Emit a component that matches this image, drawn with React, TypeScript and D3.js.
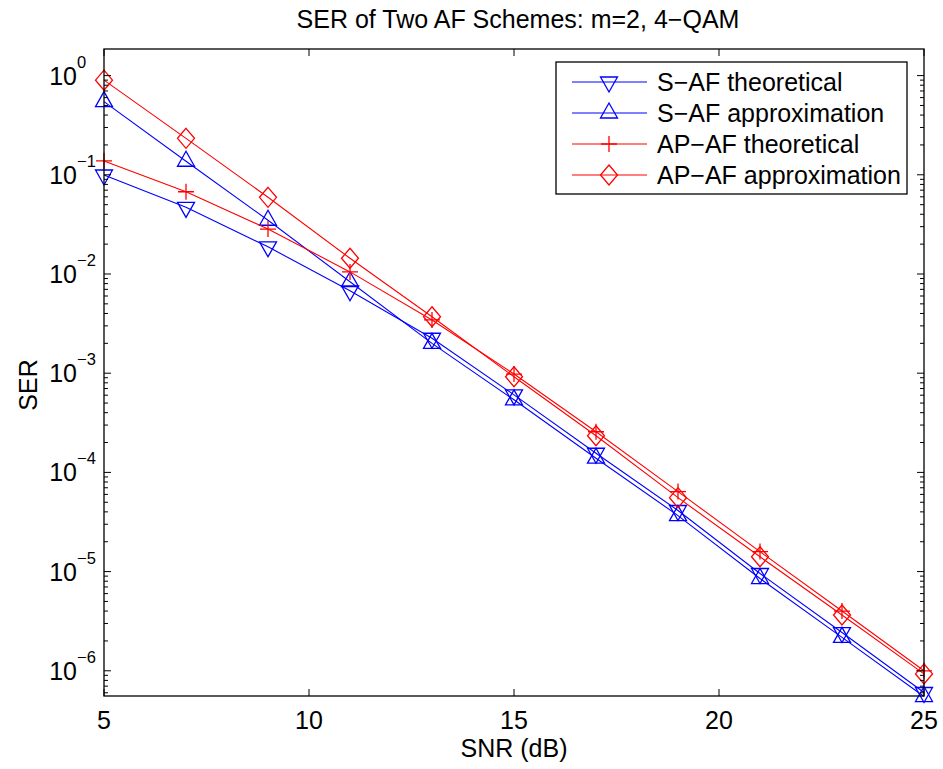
import React from "react";
import * as d3 from "d3";

// SNR points (dB)
const snr = [5, 7, 9, 11, 13, 15, 17, 19, 21, 23, 25];

// SER values
const sAfTheoretical = [0.0995, 0.047, 0.0188, 0.00677, 0.00225, 6.05e-4, 1.56e-4, 4.13e-5, 9.57e-6, 2.43e-6, 6.04e-7];
const sAfApprox = [0.546, 0.137, 0.0348, 0.00836, 0.002, 5.39e-4, 1.39e-4, 3.67e-5, 8.51e-6, 2.17e-6, 5.5e-7];
const apAfTheoretical = [0.138, 0.0675, 0.0284, 0.0105, 0.00344, 9.8e-4, 2.57e-4, 6.4e-5, 1.59e-5, 4.0e-6, 1.0e-6];
const apAfApprox = [0.9, 0.233, 0.0593, 0.0144, 0.00371, 9.2e-4, 2.34e-4, 5.56e-5, 1.41e-5, 3.65e-6, 9.3e-7];

const xTicks = [5, 10, 15, 20, 25];
const yDecades = [0, -1, -2, -3, -4, -5, -6];

const series = [
  { name: "S\u2212AF theoretical", values: sAfTheoretical, color: "#0000ff", marker: "tdown" },
  { name: "S\u2212AF approximation", values: sAfApprox, color: "#0000ff", marker: "tup" },
  { name: "AP\u2212AF theoretical", values: apAfTheoretical, color: "#ff0000", marker: "plus" },
  { name: "AP\u2212AF approximation", values: apAfApprox, color: "#ff0000", marker: "diamond" },
];

const W = 943;
const H = 769;
const left = 104;
const right = 924;
const top = 49;
const bottom = 696;
const font = "'Liberation Sans', Arial, Helvetica, sans-serif";

const x = d3.scaleLinear().domain([5, 25]).range([left, right]);
const y = d3.scaleLog().domain([5.57e-7, 1.854]).range([bottom, top]);

// triangles are anchored at their centroid, like MATLAB does
function markerPath(type: string) {
  switch (type) {
    case "tdown":
      return "M-8.5,-5L8.5,-5L0,10Z";
    case "tup":
      return "M0,-10L8.5,5L-8.5,5Z";
    case "plus":
      return "M-8,0L8,0M0,-8L0,8";
    default:
      return "M0,-10L8.5,0L0,10L-8.5,0Z";
  }
}

function Marker({ type, cx, cy, color }: { type: string; cx: number; cy: number; color: string }) {
  return (
    <path
      d={markerPath(type)}
      transform={`translate(${cx},${cy})`}
      fill="none"
      stroke={color}
      strokeWidth={1.3}
    />
  );
}

export default function App() {
  const line = d3
    .line<number>()
    .x((_, i) => x(snr[i]))
    .y((d) => y(d));

  const minorTicks: number[] = [];
  for (let e = -7; e <= 0; e++) {
    for (let k = 2; k <= 9; k++) {
      const v = k * Math.pow(10, e);
      if (v >= y.domain()[0] && v <= y.domain()[1]) minorTicks.push(v);
    }
  }

  const legendX = 556;
  const legendY = 62;
  const legendW = 351;
  const legendH = 132;
  const rowGap = 31;

  return (
    <svg width={W} height={H} style={{ position: "absolute", left: 0, top: 0, background: "#fff" }} fontFamily={font}>
      <rect x={0} y={0} width={W} height={H} fill="#fff" />

      {/* series */}
      <g>
        {series.map((s) => (
          <g key={s.name}>
            <path d={line(s.values) || ""} fill="none" stroke={s.color} strokeWidth={1.1} />
            {s.values.map((v, i) => (
              <Marker key={i} type={s.marker} cx={x(snr[i])} cy={y(v)} color={s.color} />
            ))}
          </g>
        ))}
      </g>

      {/* frame */}
      <rect x={left} y={top} width={right - left} height={bottom - top} fill="none" stroke="#000" strokeWidth={1.3} />

      {/* x ticks */}
      {xTicks.map((t) => (
        <g key={t}>
          <line x1={x(t)} x2={x(t)} y1={bottom} y2={bottom - 7} stroke="#000" strokeWidth={1} />
          <line x1={x(t)} x2={x(t)} y1={top} y2={top + 7} stroke="#000" strokeWidth={1} />
          <text x={x(t)} y={729} fontSize={25} textAnchor="middle" fill="#000">
            {t}
          </text>
        </g>
      ))}

      {/* y ticks */}
      {yDecades.map((e) => {
        const yy = y(Math.pow(10, e));
        return (
          <g key={e}>
            <line x1={left} x2={left + 7} y1={yy} y2={yy} stroke="#000" strokeWidth={1} />
            <line x1={right} x2={right - 7} y1={yy} y2={yy} stroke="#000" strokeWidth={1} />
            <text x={left - 27} y={yy + 9} fontSize={25} textAnchor="end" fill="#000">
              10
            </text>
            <text x={left - 27} y={yy - 8} fontSize={16.5} textAnchor="start" fill="#000">
              {e === 0 ? "0" : `\u2212${-e}`}
            </text>
          </g>
        );
      })}
      {minorTicks.map((v, i) => (
        <g key={i}>
          <line x1={left} x2={left + 4} y1={y(v)} y2={y(v)} stroke="#000" strokeWidth={1} />
          <line x1={right} x2={right - 4} y1={y(v)} y2={y(v)} stroke="#000" strokeWidth={1} />
        </g>
      ))}

      {/* labels */}
      <text x={(left + right) / 2 + 4} y={28} fontSize={25} textAnchor="middle" fill="#000">
        SER of Two AF Schemes: m=2, 4{"\u2212"}QAM
      </text>
      <text x={(left + right) / 2} y={757} fontSize={25} textAnchor="middle" fill="#000">
        SNR (dB)
      </text>
      <text transform={`translate(37,385) rotate(-90)`} fontSize={25} textAnchor="middle" fill="#000">
        SER
      </text>

      {/* legend */}
      <g>
        <rect x={legendX} y={legendY} width={legendW} height={legendH} fill="#fff" stroke="#000" strokeWidth={1.3} />
        {series.map((s, i) => {
          const ry = legendY + 20 + i * rowGap;
          return (
            <g key={s.name}>
              <line x1={572} x2={647} y1={ry} y2={ry} stroke={s.color} strokeWidth={1.1} />
              <Marker type={s.marker} cx={609} cy={ry} color={s.color} />
              <text x={657} y={ry + 9} fontSize={25} fill="#000">
                {s.name}
              </text>
            </g>
          );
        })}
      </g>
    </svg>
  );
}
